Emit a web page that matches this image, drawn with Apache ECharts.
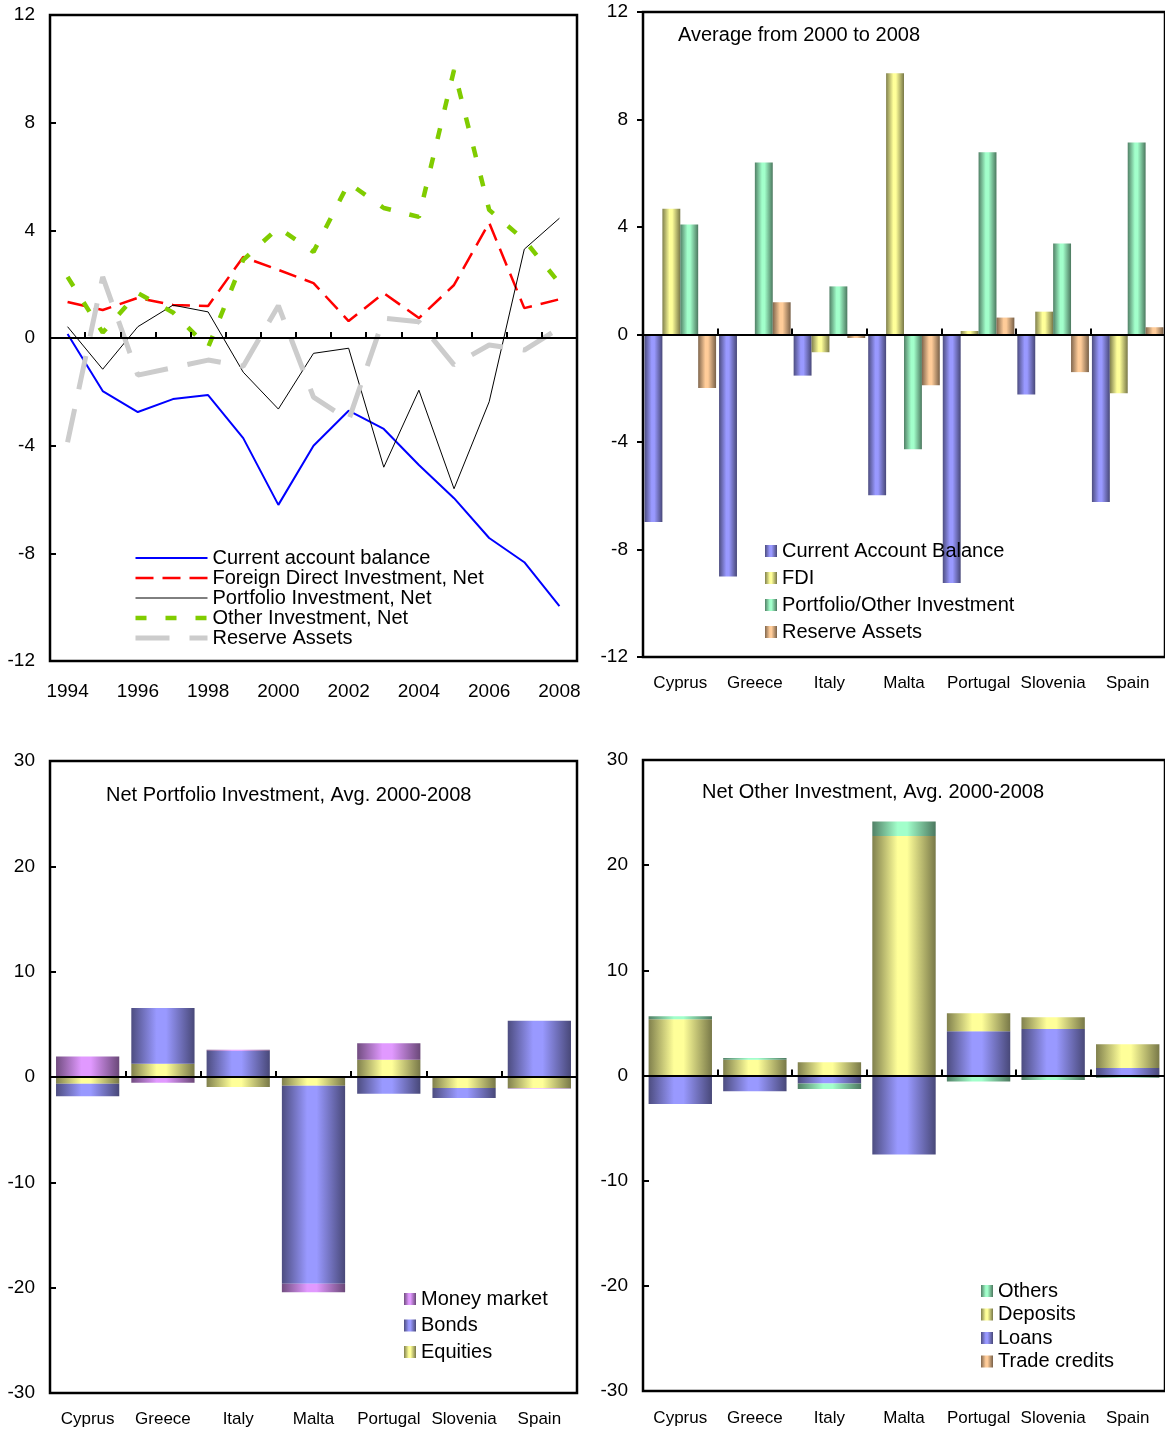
<!DOCTYPE html>
<html>
<head>
<meta charset="utf-8">
<script src="https://cdn.jsdelivr.net/npm/echarts@6/dist/echarts.min.js"></script>
<style>
  html, body { margin: 0; padding: 0; background: #fff; }
  #chart { width: 1165px; height: 1429px; }
</style>
</head>
<body>
<div id="chart"></div>
<script>
// ---- Panel 1: balance-of-payments flows, % of GDP, 1994-2008 ----
const years = ['1994','1995','1996','1997','1998','1999','2000','2001','2002','2003','2004','2005','2006','2007','2008'];
const currentAccount = [0.15, -1.97, -2.75, -2.27, -2.12, -3.72, -6.2, -4.0, -2.7, -3.38, -4.72, -5.95, -7.43, -8.33, -9.96];
const fdiNet        = [1.34, 1.04, 1.49, 1.23, 1.19, 3.01, 2.53, 2.04, 0.63, 1.67, 0.74, 1.97, 4.28, 1.11, 1.44];
const portfolioNet  = [0.42, -1.16, 0.42, 1.22, 0.97, -1.27, -2.64, -0.57, -0.38, -4.8, -1.94, -5.6, -2.37, 3.3, 4.45];
const otherNet      = [2.27, 0.2, 1.67, 0.95, -0.35, 2.9, 4.1, 3.2, 5.76, 4.83, 4.5, 9.96, 4.76, 3.64, 2.04];
const reserveNet    = [-3.87, 2.27, -1.38, -1.1, -0.82, -1.05, 1.2, -2.2, -3.05, 0.74, 0.6, -1.0, -0.26, -0.45, 0.37];

// ---- Panels 2-4: country averages 2000-2008 ----
const countries = ['Cyprus', 'Greece', 'Italy', 'Malta', 'Portugal', 'Slovenia', 'Spain'];
const avgCurrentAccount   = [-6.98, -9.0, -1.53, -5.98, -9.25, -2.23, -6.23];
const avgFdi              = [4.68, 0, -0.66, 9.72, 0.13, 0.85, -2.19];
const avgPortfolioOther   = [4.09, 6.4, 1.79, -4.27, 6.78, 3.39, 7.14];
const avgReserve          = [-1.99, 1.2, -0.13, -1.89, 0.63, -1.4, 0.27];

const pfEquities    = [-0.65, 1.25, -0.95, -0.83, 1.63, -1.04, -1.04];
const pfBonds       = [-1.18, 5.29, 2.5, -18.8, -1.58, -0.96, 5.33];
const pfMoneyMarket = [1.95, -0.54, 0.08, -0.8, 1.57, 0, -0.05];

const oiTradeCredits = [0, 0, 0, 0, 0, 0, 0];
const oiLoans        = [-2.71, -1.5, -0.75, -7.5, 4.21, 4.42, 0.71];
const oiDeposits     = [5.34, 1.5, 1.25, 22.78, 1.71, 1.13, 2.25];
const oiOthers       = [0.29, 0.17, -0.54, 1.38, -0.58, -0.42, -0.21];

const lineTicks = [-12, -8, -4, 0, 4, 8, 12];
const stackTicks = [-30, -20, -10, 0, 10, 20, 30];

const FONT = '"Liberation Sans", Arial, Helvetica, sans-serif';
const INK = '#000';

// darker tone of a hex colour
function shade(hex, f) {
  const n = parseInt(hex.slice(1), 16);
  const r = Math.round(((n >> 16) & 255) * f);
  const g = Math.round(((n >> 8) & 255) * f);
  const b = Math.round((n & 255) * f);
  return 'rgb(' + r + ',' + g + ',' + b + ')';
}
// horizontal "cylinder" shading used on every column
function cylinder(hex) {
  return new echarts.graphic.LinearGradient(0, 0, 1, 0, [
    { offset: 0, color: shade(hex, 0.5) },
    { offset: 0.4, color: hex },
    { offset: 0.55, color: hex },
    { offset: 1, color: shade(hex, 0.47) }
  ]);
}

const BLUE_BAR = '#9999ff';
const YELLOW_BAR = '#ffff99';
const GREEN_BAR = '#a2ffcb';
const ORANGE_BAR = '#ffcc99';
const VIOLET_BAR = '#e199ff';

const gridBox = [
  { left: 50,  top: 15,  width: 527, height: 646 },
  { left: 643, top: 12,  width: 525, height: 645 },
  { left: 50,  top: 761, width: 527, height: 632 },
  { left: 643, top: 760, width: 525, height: 631 }
];

// category axis that carries the labels under the frame
function labelAxis(gridIndex, data, extra) {
  return {
    type: 'category', gridIndex: gridIndex, data: data, position: 'bottom', boundaryGap: true,
    axisLine: { show: false, onZero: false }, axisTick: { show: false }, splitLine: { show: false },
    axisLabel: Object.assign({ color: INK, fontFamily: FONT, fontSize: 17, margin: 18, interval: 0 }, extra || {})
  };
}
// companion axis drawn along the zero line with ticks between categories
function zeroAxis(gridIndex, data) {
  return {
    type: 'category', gridIndex: gridIndex, data: data, position: 'bottom', boundaryGap: true, z: 6,
    axisLine: { show: true, onZero: true, lineStyle: { color: INK, width: 2 } },
    axisTick: { show: true, inside: true, length: 6, interval: 0, lineStyle: { color: INK, width: 2 } },
    axisLabel: { show: false }, splitLine: { show: false }
  };
}
function valueAxis(gridIndex, ticks, inside) {
  return {
    type: 'value', gridIndex: gridIndex,
    min: ticks[0], max: ticks[ticks.length - 1], interval: ticks[1] - ticks[0],
    axisLine: { show: true, lineStyle: { color: INK, width: 2 } },
    axisTick: { show: true, inside: inside, length: 6, lineStyle: { color: INK, width: 2 } },
    splitLine: { show: false },
    axisLabel: { color: INK, fontFamily: FONT, fontSize: 19, margin: 15 }
  };
}

function lineSeries(name, data, color, width, dash) {
  return {
    type: 'line', name: name, xAxisIndex: 0, yAxisIndex: 0, data: data,
    symbol: 'none', color: color, animation: false,
    lineStyle: { color: color, width: width, type: dash || 'solid', cap: 'butt' }
  };
}
function barSeries(name, data, color, xIdx, yIdx, extra) {
  return Object.assign({
    type: 'bar', name: name, xAxisIndex: xIdx, yAxisIndex: yIdx, data: data,
    itemStyle: { color: cylinder(color) }, animation: false
  }, extra || {});
}

const legendText = { color: INK, fontFamily: FONT, fontSize: 20 };
const titleText = { color: INK, fontFamily: FONT, fontSize: 20, fontWeight: 'normal' };

const option = {
  backgroundColor: '#fff',
  animation: false,
  grid: gridBox.map(function (g) {
    return Object.assign({ show: true, borderColor: INK, borderWidth: 2.5, backgroundColor: 'transparent' }, g);
  }),
  title: [
    { text: 'Average from 2000 to 2008', left: 678, top: 25, padding: 0, textStyle: titleText },
    { text: 'Net Portfolio Investment, Avg. 2000-2008', left: 106, top: 785, padding: 0, textStyle: titleText },
    { text: 'Net Other Investment, Avg. 2000-2008', left: 702, top: 782, padding: 0, textStyle: titleText }
  ],
  xAxis: [
    labelAxis(0, years, { interval: 1, fontSize: 19, margin: 21 }),
    zeroAxis(0, years),
    labelAxis(1, countries),
    zeroAxis(1, countries),
    labelAxis(2, countries),
    zeroAxis(2, countries),
    labelAxis(3, countries, { margin: 19 }),
    zeroAxis(3, countries)
  ],
  yAxis: [
    valueAxis(0, lineTicks, true),
    valueAxis(1, lineTicks, false),
    valueAxis(2, stackTicks, true),
    valueAxis(3, stackTicks, true)
  ],
  legend: [
    {
      orient: 'vertical', left: 133, top: 548, padding: 0, itemGap: 0,
      itemWidth: 72, itemHeight: 14, selectedMode: false,
      textStyle: legendText,
      lineStyle: { width: 'inherit' },
      itemStyle: { opacity: 0 },
      data: ['Current account balance', 'Foreign Direct Investment, Net', 'Portfolio Investment, Net',
             'Other Investment, Net', 'Reserve Assets']
    },
    {
      orient: 'vertical', left: 765, top: 541, padding: 0, itemGap: 7,
      itemWidth: 12, itemHeight: 12, selectedMode: false, icon: 'rect',
      textStyle: legendText,
      formatter: function (n) { return n.replace(' (avg)', ''); },
      data: ['Current Account Balance', 'FDI', 'Portfolio/Other Investment', 'Reserve Assets (avg)']
    },
    {
      orient: 'vertical', left: 404, top: 1289, padding: 0, itemGap: 6.5,
      itemWidth: 12, itemHeight: 12, selectedMode: false, icon: 'rect',
      textStyle: legendText,
      data: ['Money market', 'Bonds', 'Equities']
    },
    {
      orient: 'vertical', left: 981, top: 1281, padding: 0, itemGap: 3.5,
      itemWidth: 12, itemHeight: 12, selectedMode: false, icon: 'rect',
      textStyle: legendText,
      data: ['Others', 'Deposits', 'Loans', 'Trade credits']
    }
  ],
  series: [
    lineSeries('Current account balance', currentAccount, '#0000ff', 2),
    lineSeries('Foreign Direct Investment, Net', fdiNet, '#ff0000', 2.5, [18, 9]),
    lineSeries('Portfolio Investment, Net', portfolioNet, '#000000', 1),
    lineSeries('Other Investment, Net', otherNet, '#80cc00', 4.5, [11, 19]),
    lineSeries('Reserve Assets', reserveNet, '#cccccc', 5, [34, 20]),

    barSeries('Current Account Balance', avgCurrentAccount, BLUE_BAR, 2, 1, { barGap: '0%', barCategoryGap: '4%' }),
    barSeries('FDI', avgFdi, YELLOW_BAR, 2, 1, { barGap: '0%', barCategoryGap: '4%' }),
    barSeries('Portfolio/Other Investment', avgPortfolioOther, GREEN_BAR, 2, 1, { barGap: '0%', barCategoryGap: '4%' }),
    barSeries('Reserve Assets (avg)', avgReserve, ORANGE_BAR, 2, 1, { barGap: '0%', barCategoryGap: '4%' }),

    barSeries('Equities', pfEquities, YELLOW_BAR, 4, 2, { stack: 'pf', barCategoryGap: '16%' }),
    barSeries('Bonds', pfBonds, BLUE_BAR, 4, 2, { stack: 'pf', barCategoryGap: '16%' }),
    barSeries('Money market', pfMoneyMarket, VIOLET_BAR, 4, 2, { stack: 'pf', barCategoryGap: '16%' }),

    barSeries('Trade credits', oiTradeCredits, ORANGE_BAR, 6, 3, { stack: 'oi', barCategoryGap: '15%' }),
    barSeries('Loans', oiLoans, BLUE_BAR, 6, 3, { stack: 'oi', barCategoryGap: '15%' }),
    barSeries('Deposits', oiDeposits, YELLOW_BAR, 6, 3, { stack: 'oi', barCategoryGap: '15%' }),
    barSeries('Others', oiOthers, GREEN_BAR, 6, 3, { stack: 'oi', barCategoryGap: '15%' })
  ]
};

const chart = echarts.init(document.getElementById('chart'), null, { renderer: 'canvas' });
chart.setOption(option);
</script>
</body>
</html>
